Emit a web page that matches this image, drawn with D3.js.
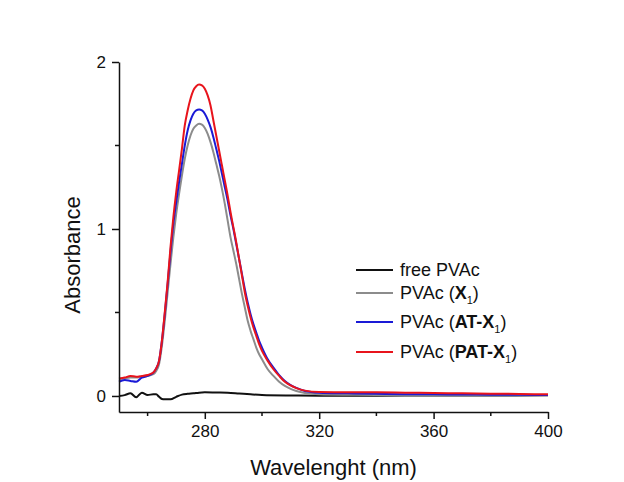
<!DOCTYPE html>
<html>
<head>
<meta charset="utf-8">
<script src="https://cdn.jsdelivr.net/npm/d3@7"></script>
<style>
  body { margin: 0; background: #fff; }
  text { font-family: "Liberation Sans", Arial, sans-serif; fill: #111; }
</style>
</head>
<body>
<div id="chart"></div>
<script>
// wavelengths shared by the three loaded films
var wavelength = [250, 252, 254, 256, 258, 260, 262, 263, 264, 265, 266, 267, 268, 269, 270,
    271, 272, 273, 274, 275, 276, 277, 278, 279, 280, 281, 282, 283, 284, 285, 286, 287, 288,
    289, 290, 291, 292, 293, 294, 295, 296, 297, 298, 299, 300, 302, 304, 306, 308, 310, 312,
    315, 320, 330, 340, 350, 360, 370, 380, 390, 400];

var pvacX1 = [0.10, 0.105, 0.11, 0.11, 0.115, 0.12, 0.13, 0.15, 0.19, 0.30, 0.45, 0.62, 0.79,
    0.95, 1.09, 1.21, 1.32, 1.42, 1.50, 1.56, 1.60, 1.62, 1.63, 1.625, 1.605, 1.57, 1.52, 1.46,
    1.39, 1.32, 1.24, 1.15, 1.05, 0.95, 0.87, 0.79, 0.70, 0.61, 0.53, 0.45, 0.39, 0.34, 0.29,
    0.25, 0.22, 0.16, 0.12, 0.085, 0.06, 0.042, 0.03, 0.018, 0.01, 0.007, 0.006, 0.006, 0.005,
    0.005, 0.005, 0.005, 0.005];

var pvacATX1 = [0.085, 0.095, 0.09, 0.085, 0.11, 0.12, 0.14, 0.165, 0.21, 0.33, 0.49, 0.67,
    0.86, 1.03, 1.16, 1.28, 1.39, 1.50, 1.59, 1.65, 1.69, 1.71, 1.715, 1.71, 1.69, 1.655, 1.61,
    1.55, 1.48, 1.41, 1.33, 1.25, 1.17, 1.08, 1.0, 0.91, 0.82, 0.73, 0.64, 0.56, 0.49, 0.43,
    0.38, 0.33, 0.29, 0.22, 0.17, 0.125, 0.09, 0.065, 0.048, 0.03, 0.02, 0.016, 0.013, 0.011,
    0.01, 0.009, 0.008, 0.007, 0.006];

var pvacPATX1 = [0.105, 0.11, 0.12, 0.115, 0.12, 0.126, 0.14, 0.165, 0.21, 0.33, 0.50, 0.68,
    0.89, 1.07, 1.22, 1.35, 1.48, 1.62, 1.71, 1.78, 1.83, 1.855, 1.865, 1.86, 1.84, 1.80, 1.74,
    1.65, 1.56, 1.47, 1.38, 1.29, 1.20, 1.10, 1.01, 0.92, 0.82, 0.72, 0.62, 0.54, 0.47, 0.41,
    0.36, 0.31, 0.27, 0.21, 0.16, 0.12, 0.085, 0.063, 0.047, 0.032, 0.024, 0.022, 0.022, 0.02,
    0.018, 0.016, 0.014, 0.012, 0.01];

// free film measured on its own grid
var freeWavelength = [250, 252, 254, 256, 258, 260, 262, 263, 264, 265, 266, 268, 270, 272,
    274, 276, 278, 280, 284, 288, 292, 296, 300, 310, 320, 340, 360, 380, 400];
var freePVAc = [0.0, 0.005, 0.016, -0.008, 0.02, 0.006, 0.01, 0.01, -0.005, -0.018, -0.02,
    -0.02, -0.005, 0.008, 0.013, 0.016, 0.02, 0.022, 0.021, 0.02, 0.015, 0.01, 0.006, 0.003,
    0.002, 0.002, 0.003, 0.003, 0.004];

var xTicks = [280, 320, 360, 400];
var xMinor = [260, 300, 340, 380];
var yTicks = [0, 1, 2];
var yMinor = [0.5, 1.5];

var width = 624, height = 482;
var margin = {top: 62, right: 76, bottom: 70, left: 119};

var svg = d3.select("#chart").append("svg")
    .attr("width", width)
    .attr("height", height);

var x = d3.scaleLinear().domain([250, 400]).range([margin.left, width - margin.right]);
var y = d3.scaleLinear().domain([-0.096, 2]).range([height - margin.bottom, margin.top]);

var series = [
    {name: ["free PVAc"], xs: freeWavelength, ys: freePVAc, color: "#111111", ly: 270},
    {name: ["PVAc (", "X", "1", ")"], xs: wavelength, ys: pvacX1, color: "#8c8c8c", ly: 293},
    {name: ["PVAc (", "AT-X", "1", ")"], xs: wavelength, ys: pvacATX1, color: "#1a1ad6", ly: 322},
    {name: ["PVAc (", "PAT-X", "1", ")"], xs: wavelength, ys: pvacPATX1, color: "#e8141c", ly: 352}
];

var line = d3.line()
    .x(function (d) { return x(d[0]); })
    .y(function (d) { return y(d[1]); })
    .curve(d3.curveMonotoneX);

series.forEach(function (s) {
    var pts = s.xs.map(function (w, i) { return [w, s.ys[i]]; });
    svg.append("path")
        .datum(pts)
        .attr("fill", "none")
        .attr("stroke", s.color)
        .attr("stroke-width", 2)
        .attr("stroke-linejoin", "round")
        .attr("d", line);
});

// axes
var gx = svg.append("g")
    .attr("transform", "translate(0," + y.range()[0] + ")");
gx.call(d3.axisBottom(x).tickValues(xTicks).tickSize(7).tickPadding(6).tickSizeOuter(0));
gx.selectAll(".minor").data(xMinor).enter().append("line")
    .attr("x1", function (d) { return x(d); })
    .attr("x2", function (d) { return x(d); })
    .attr("y1", 0).attr("y2", 4)
    .attr("stroke", "#111").attr("stroke-width", 1.5);

var gy = svg.append("g")
    .attr("transform", "translate(" + margin.left + ",0)");
gy.call(d3.axisLeft(y).tickValues(yTicks).tickFormat(d3.format("d")).tickSize(7).tickPadding(6).tickSizeOuter(0));
gy.selectAll(".minor").data(yMinor).enter().append("line")
    .attr("y1", function (d) { return y(d); })
    .attr("y2", function (d) { return y(d); })
    .attr("x1", 0).attr("x2", -4)
    .attr("stroke", "#111").attr("stroke-width", 1.5);

svg.selectAll(".domain").attr("stroke", "#111").attr("stroke-width", 1.5);
svg.selectAll(".tick line").attr("stroke", "#111").attr("stroke-width", 1.5);
svg.selectAll(".tick text")
    .attr("font-family", "Liberation Sans, Arial, sans-serif")
    .attr("font-size", 17)
    .attr("fill", "#111");

svg.append("text")
    .attr("x", (x.range()[0] + x.range()[1]) / 2)
    .attr("y", 475)
    .attr("text-anchor", "middle")
    .attr("font-size", 22)
    .text("Wavelenght (nm)");

svg.append("text")
    .attr("transform", "translate(80,255) rotate(-90)")
    .attr("text-anchor", "middle")
    .attr("font-size", 22)
    .text("Absorbance");

// legend
var legend = svg.append("g");
series.forEach(function (s) {
    legend.append("line")
        .attr("x1", 356).attr("x2", 393)
        .attr("y1", s.ly).attr("y2", s.ly)
        .attr("stroke", s.color).attr("stroke-width", 2);
    var t = legend.append("text")
        .attr("x", 400).attr("y", s.ly + 6)
        .attr("font-size", 18);
    t.append("tspan").text(s.name[0]);
    if (s.name.length > 1) {
        t.append("tspan").attr("font-weight", "bold").text(s.name[1]);
        t.append("tspan").attr("font-size", 11).attr("dy", 5).text(s.name[2]);
        t.append("tspan").attr("dy", -5).text(s.name[3]);
    }
});
</script>
</body>
</html>
